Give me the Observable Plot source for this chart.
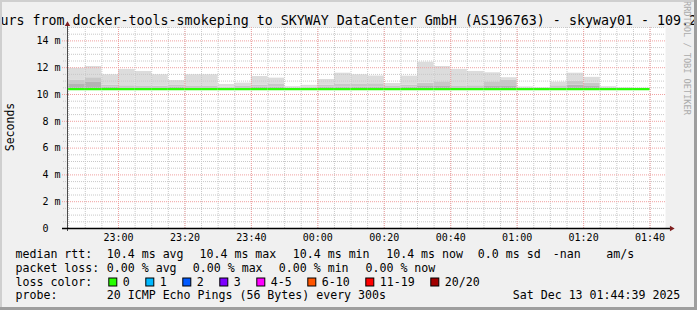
<!DOCTYPE html>
<html><head><meta charset="utf-8">
<script src="https://cdn.jsdelivr.net/npm/d3@7"></script>
<script src="https://cdn.jsdelivr.net/npm/@observablehq/plot@0.6"></script>
<style>
html,body{margin:0;padding:0;background:#f0f0f0;}
#chart{position:relative;width:697px;height:310px;overflow:hidden;}
</style></head><body><div id="chart"></div>
<script>
// ---- data ----
const titleText = "urs from docker-tools-smokeping to SKYWAY DataCenter GmbH (AS196763) - skyway01 - 109.2";
const yLabelText = "Seconds";
const watermark = "RRDTOOL / TOBI OETIKER";
const blockTimes = ["22:45","22:50","22:55","23:00","23:05","23:10","23:15","23:20","23:25","23:30","23:35","23:40","23:45","23:50","23:55",
  "00:00","00:05","00:10","00:15","00:20","00:25","00:30","00:35","00:40","00:45","00:50","00:55",
  "01:00","01:05","01:10","01:15","01:20","01:25","01:30","01:35"];
const lastBlockEnd = "01:40";
const smokeMax = [11.96,12.09,11.47,11.87,11.72,11.47,11.04,11.47,11.47,10.75,10.85,11.34,11.22,10.58,10.68,
  11.12,11.59,11.47,11.38,10.82,11.37,12.41,12.09,11.87,11.72,11.62,11.25,
  10.56,10.52,10.92,11.59,11.28,10.58,10.52,10.48];
const smokeMid = [11.05,11.25,10.70,10.65,10.60,10.62,10.68,10.60,10.60,10.55,10.60,10.70,10.75,10.50,10.55,
  10.70,10.75,10.75,10.80,10.60,10.70,10.85,10.95,10.60,10.65,10.95,11.05,
  10.50,10.48,10.65,11.00,10.85,10.50,10.48,10.46];
const smokeLow = [10.80,10.90,10.55,10.50,10.50,10.50,10.55,10.50,10.50,10.48,10.50,10.55,10.55,10.45,10.47,
  10.55,10.55,10.55,10.55,10.50,10.55,10.65,10.60,10.50,10.50,10.60,10.60,
  10.46,10.45,10.50,10.70,10.60,10.45,10.45,10.44];
const median = [10.4,10.4,10.4,10.4,10.4,10.4,10.4,10.4,10.4,10.4,10.4,10.4,10.4,10.4,10.4,
  10.4,10.4,10.4,10.4,10.4,10.4,10.4,10.4,10.4,10.4,10.4,10.4,
  10.4,10.4,10.4,10.4,10.4,10.4,10.4,10.4];
const smokeDip = [10.3,null,null,null,10.3,null,null,null,null,null,null,null,null,10.3,null,
  null,null,null,null,null,null,null,null,10.3,10.3,null,null,
  null,null,null,null,null,10.3,null,null];
const tickLabels = ["23:00","23:20","23:40","00:00","00:20","00:40","01:00","01:20","01:40"];
const yTicks = [0,2,4,6,8,10,12,14];
const yTickLabels = ["0\u00a0\u00a0","2 m","4 m","6 m","8 m","10 m","12 m","14 m"];
const rttRow = ["median rtt:","10.4 ms avg","10.4 ms max","10.4 ms min","10.4 ms now","0.0 ms sd","-nan","am/s"];
const lossRow = ["packet loss:","0.00 % avg","0.00 % max","0.00 % min","0.00 % now"];
const lossColorTitle = "loss color:";
const lossLabels = ["0","1","2","3","4-5","6-10","11-19","20/20"];
const lossColors = ["#26ff00","#00b8ff","#0059ff","#7e00ff","#ff00ff","#ff5500","#ff0000","#a10000"];
const probeRow = ["probe:","20 ICMP Echo Pings (56 Bytes) every 300s","Sat Dec 13 01:44:39 2025"];

// ---- helpers ----
const toDate = s => { const [h,m] = s.split(":").map(Number); return new Date(Date.UTC(2025, 11, h >= 12 ? 12 : 13, h, m)); };
const xStart = new Date(Date.UTC(2025,11,12,22,44,39));
const xEnd = new Date(Date.UTC(2025,11,13,1,44,39));
const blockEnds = blockTimes.slice(1).concat(lastBlockEnd);
const blocks = blockTimes.map((s,i) => ({
  t0: toDate(s), t1: toDate(blockEnds[i]),
  max: smokeMax[i], mid: smokeMid[i], low: smokeLow[i], med: median[i], dip: smokeDip[i]
}));
const tickDates = tickLabels.map(toDate);
const minorTimes = blockTimes.concat(lastBlockEnd).map(toDate);
const yMinor = d3.range(0.5, 15.01, 0.5).filter(v => v % 2 !== 0);
const yMajor = yTicks.filter(v => v > 0);

const gridDash = "1,1";
const chart = Plot.plot({
  width: 697, height: 310,
  marginLeft: 67, marginRight: 32, marginTop: 27, marginBottom: 82,
  style: {background: "#f0f0f0", fontFamily: "DejaVu Sans Mono", fontSize: "10px", color: "#000"},
  x: {type: "utc", domain: [xStart, xEnd]},
  y: {domain: [0, 15]},
  marks: [
    Plot.frame({fill: "#ffffff", stroke: "none"}),
    Plot.rect(blocks, {x1: "t0", x2: "t1", y1: "med", y2: "low", fill: "#b4b4b4"}),
    Plot.rect(blocks, {x1: "t0", x2: "t1", y1: "low", y2: "mid", fill: "#c8c8c8"}),
    Plot.rect(blocks, {x1: "t0", x2: "t1", y1: "mid", y2: "max", fill: "#dcdcdc"}),
    Plot.rect(blocks.filter(d => d.dip != null), {x1: "t0", x2: "t1", y1: "dip", y2: "med", fill: "#5a5a5a"}),
    Plot.ruleY(yMinor, {stroke: "#c8c8c8", strokeDasharray: gridDash, insetLeft: -4}),
    Plot.ruleX(minorTimes, {stroke: "#c8c8c8", strokeDasharray: gridDash}),
    Plot.ruleY(yMajor, {stroke: "#f0a0a0", strokeDasharray: gridDash, insetLeft: -5}),
    Plot.ruleX(tickDates, {stroke: "#f0a0a0", strokeDasharray: gridDash}),
    Plot.ruleY(blocks, {y: "med", x1: "t0", x2: "t1", stroke: "#26ff00", strokeWidth: 2.2}),
    Plot.ruleX([xStart], {stroke: "#4b4b4b", insetBottom: -3, insetTop: -2}),
    Plot.ruleY([0], {stroke: "#000", strokeWidth: 1.5, insetLeft: -5, insetRight: -5}),
    Plot.dot([{x: xStart, y: 15}], {x: "x", y: "y", symbol: "triangle2", r: 2.6, fill: "#7f1f1f", stroke: "none", dy: -3}),
    Plot.dot([{x: xEnd, y: 0}], {x: "x", y: "y", symbol: "triangle2", r: 2.6, fill: "#7f1f1f", stroke: "none", rotate: 90, dx: 6}),
    Plot.axisY(yTicks, {tickFormat: d => yTickLabels[yTicks.indexOf(d)], tickSize: 0, tickPadding: 7, fontSize: 10, label: null}),
    Plot.axisX(tickDates, {tickFormat: d => tickLabels[tickDates.findIndex(t => +t === +d)], tickSize: 0, tickPadding: 5, fontSize: 10, label: null})
  ]
});
document.getElementById("chart").appendChild(chart);

// ---- text overlay (title, labels, legend) ----
const svg = d3.select(chart);
const g = svg.append("g").attr("font-family", "DejaVu Sans Mono").attr("fill", "#000").attr("text-anchor", "start").style("white-space", "pre");
g.append("text").attr("x", 0.5).attr("y", 25).attr("font-size", "13.3px").text(titleText);
g.append("text").attr("transform", "translate(14.3,127) rotate(-90)").attr("text-anchor", "middle").attr("font-size", "11.5px").text(yLabelText);
g.append("text").attr("transform", "translate(683.5,1) rotate(90)").attr("font-size", "8.6px").attr("fill", "#ababab").text(watermark);

const fs = "11.6px";
const rttX = [15.5, 106.8, 199.5, 292.8, 386.2, 477.8, 552.8, 606.2];
rttRow.forEach((t,i) => g.append("text").attr("x", rttX[i]).attr("y", 258.4).attr("font-size", fs).text(t));
const lossX = [15.5, 106.8, 192.8, 278.8, 365.5];
lossRow.forEach((t,i) => g.append("text").attr("x", lossX[i]).attr("y", 271.8).attr("font-size", fs).text(t));
g.append("text").attr("x", 15.5).attr("y", 285.6).attr("font-size", fs).text(lossColorTitle);
let sx = 108.3;
lossLabels.forEach((t,i) => {
  g.append("rect").attr("x", sx + 0.5).attr("y", 278).attr("width", 8).attr("height", 8)
    .attr("fill", lossColors[i]).attr("stroke", "#000").attr("stroke-width", 1);
  g.append("text").attr("x", sx + 14.5).attr("y", 285.6).attr("font-size", fs).text(t);
  sx = sx + 15 + t.length * 7 + 15;
});
const probeX = [15.5, 106.8, 512.8];
probeRow.forEach((t,i) => g.append("text").attr("x", probeX[i]).attr("y", 298.7).attr("font-size", fs).text(t));

// frame shading
svg.append("rect").attr("x", 0).attr("y", 0).attr("width", 2).attr("height", 310).attr("fill", "#cfcfcf");
svg.append("rect").attr("x", 0).attr("y", 0).attr("width", 697).attr("height", 2).attr("fill", "#cfcfcf");
svg.append("rect").attr("x", 694).attr("y", 0).attr("width", 3).attr("height", 310).attr("fill", "#9e9e9e");
svg.append("rect").attr("x", 0).attr("y", 307).attr("width", 697).attr("height", 3).attr("fill", "#9e9e9e");
</script></body></html>
